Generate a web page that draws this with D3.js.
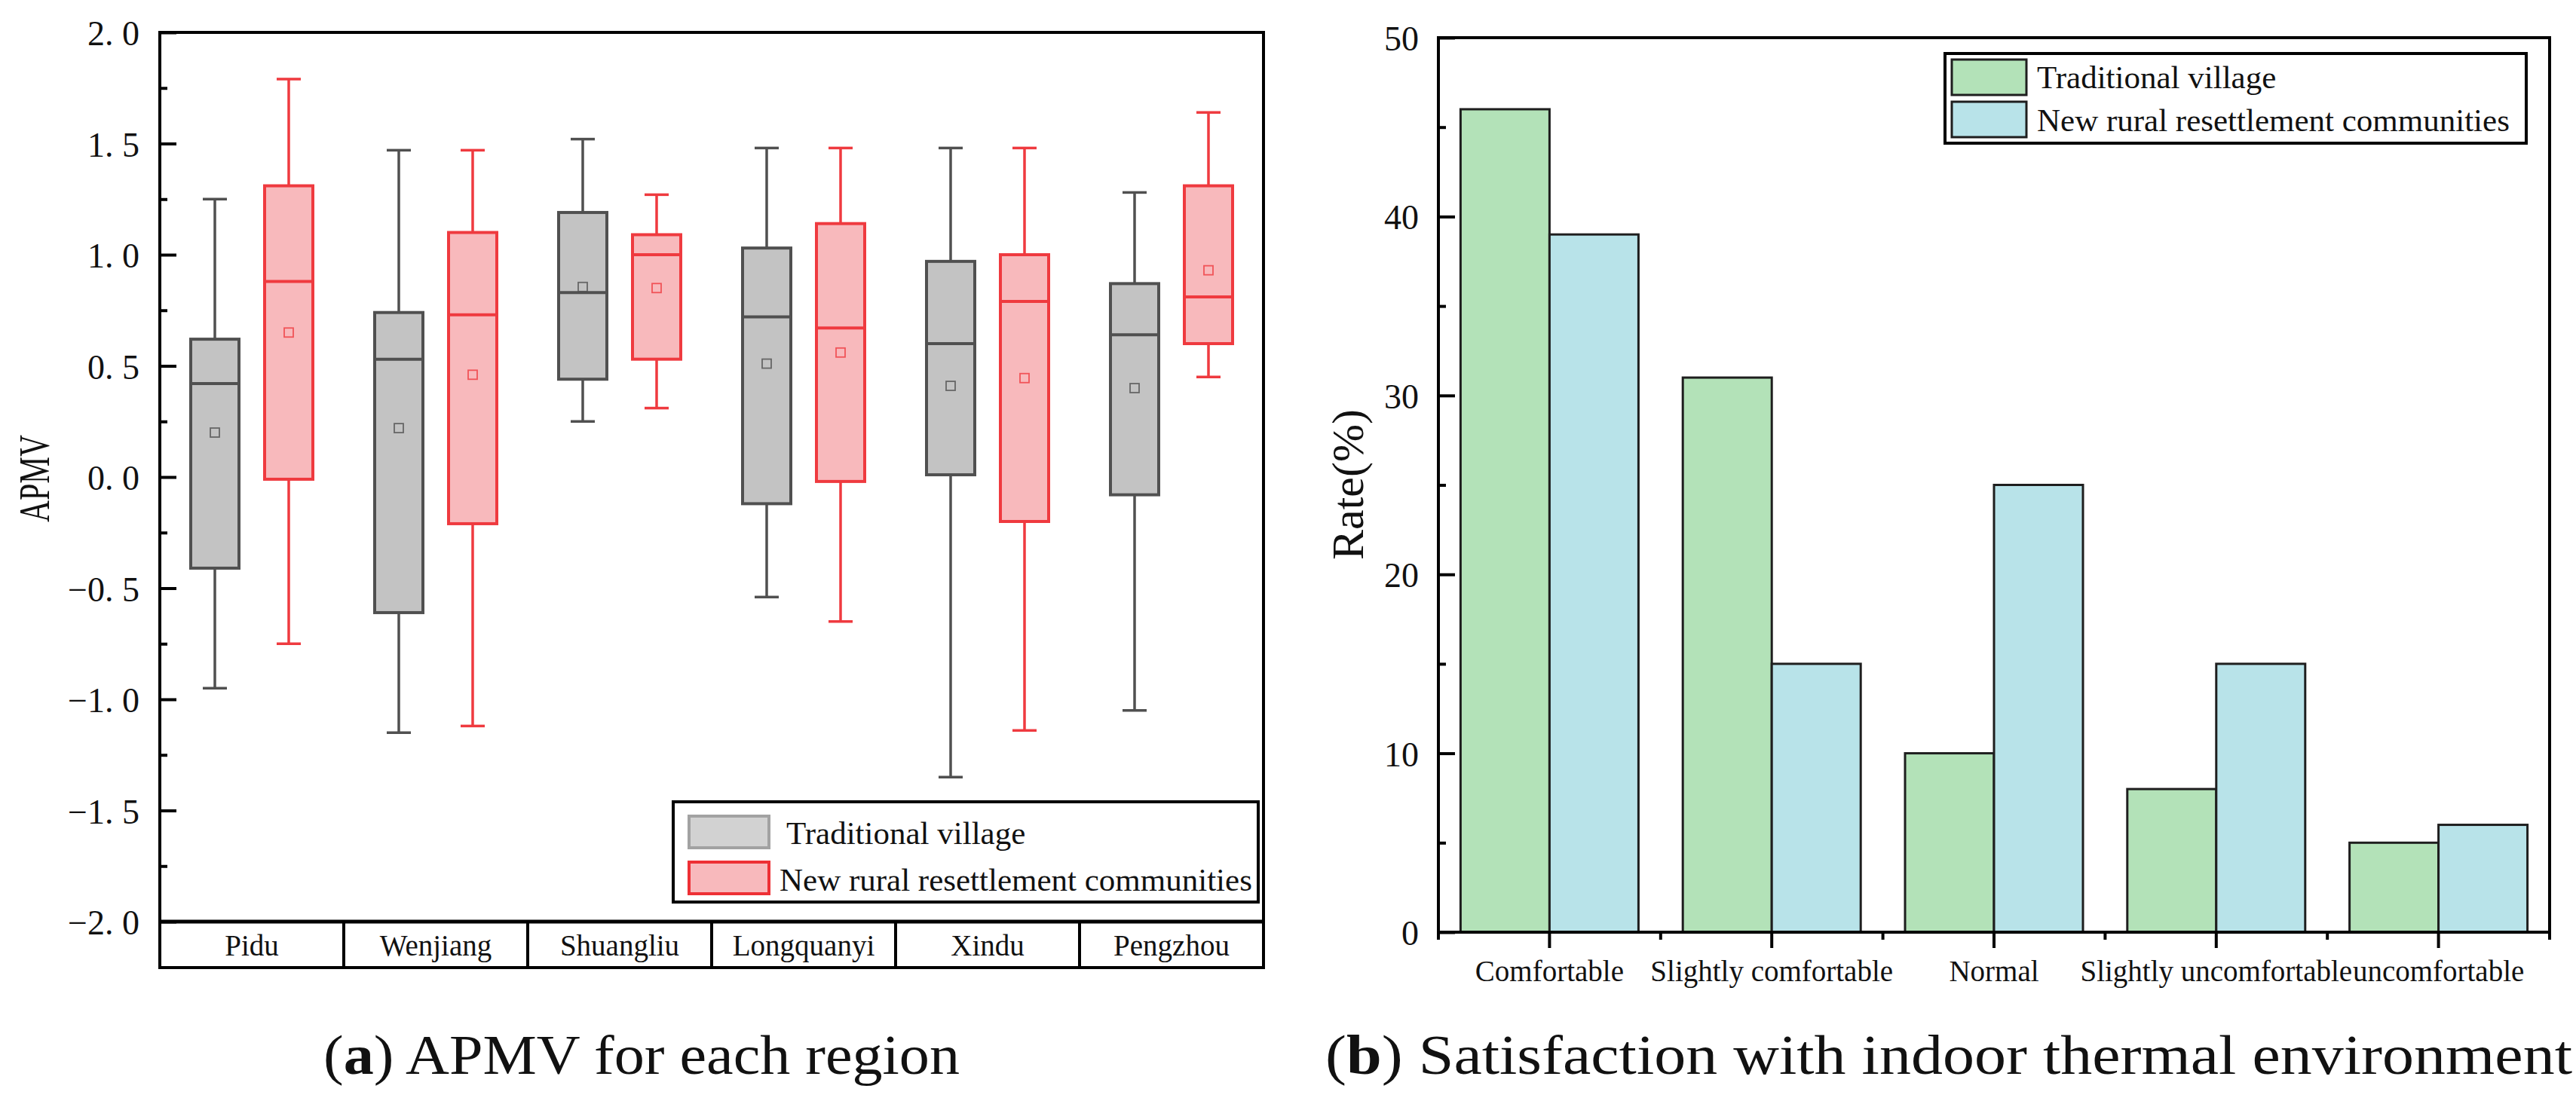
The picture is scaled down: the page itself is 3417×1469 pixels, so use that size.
<!DOCTYPE html>
<html>
<head>
<meta charset="utf-8">
<script src="https://cdn.jsdelivr.net/npm/d3@7"></script>
<style>
  html, body { margin: 0; padding: 0; background: #fff; }
  svg text { font-family: "Liberation Serif", "Times New Roman", serif; fill: #111; }
</style>
</head>
<body>
<div class="main"></div>
<script>
// ---- data (a): APMV box plots, each row = [whiskerLow, q1, median, q3, whiskerHigh, mean]
let regions = ['Pidu', 'Wenjiang', 'Shuangliu', 'Longquanyi', 'Xindu', 'Pengzhou']
let groups = ['Traditional village', 'New rural resettlement communities']
let tradBoxes = [
  [-0.95, -0.41, 0.42, 0.62, 1.25, 0.20],
  [-1.15, -0.61, 0.53, 0.74, 1.47, 0.22],
  [0.25, 0.44, 0.83, 1.19, 1.52, 0.855],
  [-0.54, -0.12, 0.72, 1.03, 1.48, 0.51],
  [-1.35, 0.01, 0.60, 0.97, 1.48, 0.41],
  [-1.05, -0.08, 0.64, 0.87, 1.28, 0.40]
]
let newBoxes = [
  [-0.75, -0.01, 0.88, 1.31, 1.79, 0.65],
  [-1.12, -0.21, 0.73, 1.10, 1.47, 0.46],
  [0.31, 0.53, 1.00, 1.09, 1.27, 0.85],
  [-0.65, -0.02, 0.67, 1.14, 1.48, 0.56],
  [-1.14, -0.20, 0.79, 1.00, 1.48, 0.445],
  [0.45, 0.60, 0.81, 1.31, 1.64, 0.93]
]
let apmvTicks = [-2, -1.5, -1, -0.5, 0, 0.5, 1, 1.5, 2]
let apmvMinor = [-1.75, -1.25, -0.75, -0.25, 0.25, 0.75, 1.25, 1.75]

// ---- data (b): satisfaction rates
let satCategories = ['Comfortable', 'Slightly comfortable', 'Normal', 'Slightly uncomfortable', 'uncomfortable']
let tradRates = [46, 31, 10, 8, 5]
let newRates = [39, 15, 25, 15, 6]
let rateTicks = [0, 10, 20, 30, 40, 50]
let rateMinor = [5, 15, 25, 35, 45]

let W = 3417, H = 1469
let svg = d3.select('.main').append('svg')
  .attr('width', W).attr('height', H)

let boxColors = {
  'Traditional village': {fill: '#c3c3c3', stroke: '#505050', legendFill: '#d2d2d2', legendStroke: '#a2a2a2'},
  'New rural resettlement communities': {fill: '#f8b9bc', stroke: '#ef3a3f', legendFill: '#f8b9bc', legendStroke: '#ee3035'}
}
let barColors = {'Traditional village': '#b3e2b8', 'New rural resettlement communities': '#b8e3e9'}

// ================= panel (a) =================
let A = {left: 212, right: 1676, top: 43, bottom: 1223, table: 1284}

let yA = d3.scaleLinear().domain([-2, 2]).range([A.bottom, A.top])
let xA = d3.scaleBand().domain(regions).range([A.left, A.right])
let xAsub = d3.scalePoint().domain(groups).range([xA.bandwidth() / 2 - 49, xA.bandwidth() / 2 + 49])
let boxW = 64, capW = 32

let fmtA = d => d.toFixed(1).replace('.', '. ').replace('-', '\u2212')

let axA = svg.append('g')
  .attr('transform', `translate(${A.left},0)`)
  .call(d3.axisLeft(yA).tickValues(apmvTicks).tickSize(-22).tickPadding(27).tickFormat(fmtA))
axA.select('.domain').remove()
axA.selectAll('line').attr('stroke', '#000').attr('stroke-width', 4)
axA.selectAll('text').style('font-size', '46px').attr('dy', '0.36em')

let axAm = svg.append('g')
  .attr('transform', `translate(${A.left},0)`)
  .call(d3.axisLeft(yA).tickValues(apmvMinor).tickSize(-10).tickFormat(''))
axAm.select('.domain').remove()
axAm.selectAll('line').attr('stroke', '#000').attr('stroke-width', 4)

// boxes
let seriesA = [
  {name: groups[0], rows: tradBoxes},
  {name: groups[1], rows: newBoxes}
]
seriesA.forEach(s => {
  let c = boxColors[s.name]
  let g = svg.append('g').selectAll('g').data(s.rows).enter().append('g')
    .attr('transform', (d, i) => `translate(${xA(regions[i]) + xAsub(s.name)},0)`)
  // whiskers
  g.append('line')
    .attr('x1', 0).attr('x2', 0)
    .attr('y1', d => yA(d[4])).attr('y2', d => yA(d[3]))
    .attr('stroke', c.stroke).attr('stroke-width', 3.5)
  g.append('line')
    .attr('x1', 0).attr('x2', 0)
    .attr('y1', d => yA(d[1])).attr('y2', d => yA(d[0]))
    .attr('stroke', c.stroke).attr('stroke-width', 3.5)
  g.append('line')
    .attr('x1', -capW / 2).attr('x2', capW / 2)
    .attr('y1', d => yA(d[4])).attr('y2', d => yA(d[4]))
    .attr('stroke', c.stroke).attr('stroke-width', 3.5)
  g.append('line')
    .attr('x1', -capW / 2).attr('x2', capW / 2)
    .attr('y1', d => yA(d[0])).attr('y2', d => yA(d[0]))
    .attr('stroke', c.stroke).attr('stroke-width', 3.5)
  // box
  g.append('rect')
    .attr('x', -boxW / 2).attr('width', boxW)
    .attr('y', d => yA(d[3]))
    .attr('height', d => yA(d[1]) - yA(d[3]))
    .attr('fill', c.fill).attr('stroke', c.stroke).attr('stroke-width', 4)
  // median
  g.append('line')
    .attr('x1', -boxW / 2).attr('x2', boxW / 2)
    .attr('y1', d => yA(d[2])).attr('y2', d => yA(d[2]))
    .attr('stroke', c.stroke).attr('stroke-width', 4)
  // mean
  g.append('rect')
    .attr('x', -6).attr('width', 12).attr('height', 12)
    .attr('y', d => yA(d[5]) - 6)
    .attr('fill', 'none').attr('stroke', c.stroke).attr('stroke-opacity', 0.8).attr('stroke-width', 1.8)
})

// frame + category table
svg.append('rect')
  .attr('x', A.left).attr('y', A.top)
  .attr('width', A.right - A.left).attr('height', A.table - A.top)
  .attr('fill', 'none').attr('stroke', '#000').attr('stroke-width', 4)
svg.append('line')
  .attr('x1', A.left).attr('x2', A.right).attr('y1', A.bottom).attr('y2', A.bottom)
  .attr('stroke', '#000').attr('stroke-width', 5)
svg.append('g').selectAll('line').data(regions.slice(1)).enter().append('line')
  .attr('x1', d => xA(d)).attr('x2', d => xA(d))
  .attr('y1', A.bottom).attr('y2', A.table)
  .attr('stroke', '#000').attr('stroke-width', 4)
svg.append('g').selectAll('text').data(regions).enter().append('text')
  .attr('x', d => xA(d) + xA.bandwidth() / 2)
  .attr('y', 1268)
  .attr('text-anchor', 'middle')
  .style('font-size', '39px')
  .text(d => d)

svg.append('text')
  .attr('transform', `translate(65,635) rotate(-90)`)
  .attr('text-anchor', 'middle')
  .attr('textLength', 116).attr('lengthAdjust', 'spacingAndGlyphs')
  .style('font-size', '58px')
  .text('APMV')

// legend (a)
let legA = svg.append('g')
legA.append('rect')
  .attr('x', 893).attr('y', 1064).attr('width', 776).attr('height', 133)
  .attr('fill', '#fff').attr('stroke', '#000').attr('stroke-width', 4)
legA.selectAll('.sw').data(groups).enter().append('rect')
  .attr('x', 914).attr('width', 106)
  .attr('y', (d, i) => [1083, 1144][i]).attr('height', 42)
  .attr('fill', d => boxColors[d].legendFill)
  .attr('stroke', d => boxColors[d].legendStroke).attr('stroke-width', 4)
legA.selectAll('.lt').data(groups).enter().append('text')
  .attr('x', (d, i) => [1043, 1034][i])
  .attr('y', (d, i) => [1120, 1182][i])
  .style('font-size', '43px')
  .text(d => d)

// ================= panel (b) =================
let B = {left: 1908, right: 3382, top: 50, bottom: 1237}
let yB = d3.scaleLinear().domain([0, 50]).range([B.bottom, B.top])
let xB = d3.scaleBand().domain(satCategories).range([B.left, B.right])
let barW = 118
let xBsub = d3.scaleBand().domain(groups).range([xB.bandwidth() / 2 - barW, xB.bandwidth() / 2 + barW])

let seriesB = [
  {name: groups[0], vals: tradRates},
  {name: groups[1], vals: newRates}
]
seriesB.forEach(s => {
  svg.append('g').selectAll('rect').data(s.vals).enter().append('rect')
    .attr('x', (d, i) => xB(satCategories[i]) + xBsub(s.name))
    .attr('width', xBsub.bandwidth())
    .attr('y', d => yB(d))
    .attr('height', d => yB(0) - yB(d))
    .attr('fill', barColors[s.name])
    .attr('stroke', '#1e1e1e').attr('stroke-width', 3)
})

let axBy = svg.append('g')
  .attr('transform', `translate(${B.left},0)`)
  .call(d3.axisLeft(yB).tickValues(rateTicks).tickSize(-22).tickPadding(26))
axBy.select('.domain').remove()
axBy.selectAll('line').attr('stroke', '#000').attr('stroke-width', 4)
axBy.selectAll('text').style('font-size', '46px').attr('dy', '0.36em')

let axBym = svg.append('g')
  .attr('transform', `translate(${B.left},0)`)
  .call(d3.axisLeft(yB).tickValues(rateMinor).tickSize(-10).tickFormat(''))
axBym.select('.domain').remove()
axBym.selectAll('line').attr('stroke', '#000').attr('stroke-width', 4)

let axBx = svg.append('g')
  .attr('transform', `translate(0,${B.bottom})`)
  .call(d3.axisBottom(xB).tickSize(21).tickPadding(0))
axBx.select('.domain').remove()
axBx.selectAll('line').attr('stroke', '#000').attr('stroke-width', 4)
axBx.selectAll('text').style('font-size', '39px').attr('y', 65).attr('dy', 0)

// minor x ticks at category boundaries
let bounds = satCategories.map(c => xB(c)).concat([B.right])
svg.append('g').selectAll('line').data(bounds).enter().append('line')
  .attr('x1', d => d).attr('x2', d => d)
  .attr('y1', B.bottom).attr('y2', B.bottom + 10)
  .attr('stroke', '#000').attr('stroke-width', 4)

svg.append('rect')
  .attr('x', B.left).attr('y', B.top)
  .attr('width', B.right - B.left).attr('height', B.bottom - B.top)
  .attr('fill', 'none').attr('stroke', '#000').attr('stroke-width', 4)

svg.append('text')
  .attr('transform', `translate(1808,643) rotate(-90)`)
  .attr('text-anchor', 'middle')
  .style('font-size', '60px')
  .text('Rate(%)')

// legend (b)
let legB = svg.append('g')
legB.append('rect')
  .attr('x', 2580).attr('y', 71).attr('width', 771).attr('height', 119)
  .attr('fill', '#fff').attr('stroke', '#000').attr('stroke-width', 4)
legB.selectAll('.sw').data(groups).enter().append('rect')
  .attr('x', 2589).attr('width', 99)
  .attr('y', (d, i) => [79, 135][i]).attr('height', 47)
  .attr('fill', d => barColors[d])
  .attr('stroke', '#1e1e1e').attr('stroke-width', 3)
legB.selectAll('.lt').data(groups).enter().append('text')
  .attr('x', 2702)
  .attr('y', (d, i) => [117, 174][i])
  .style('font-size', '43px')
  .text(d => d)

// ================= captions =================
let caps = [
  {label: 'a', rest: ' APMV for each region', x: 429, len: 844},
  {label: 'b', rest: ' Satisfaction with indoor thermal environment', x: 1758, len: 1654}
]
caps.forEach(c => {
  let t = svg.append('text')
    .attr('x', c.x).attr('y', 1425)
    .attr('textLength', c.len).attr('lengthAdjust', 'spacingAndGlyphs')
    .style('font-size', '74px')
  t.append('tspan').text('(')
  t.append('tspan').style('font-weight', 'bold').text(c.label)
  t.append('tspan').text(')' + c.rest)
})
</script>
</body>
</html>
